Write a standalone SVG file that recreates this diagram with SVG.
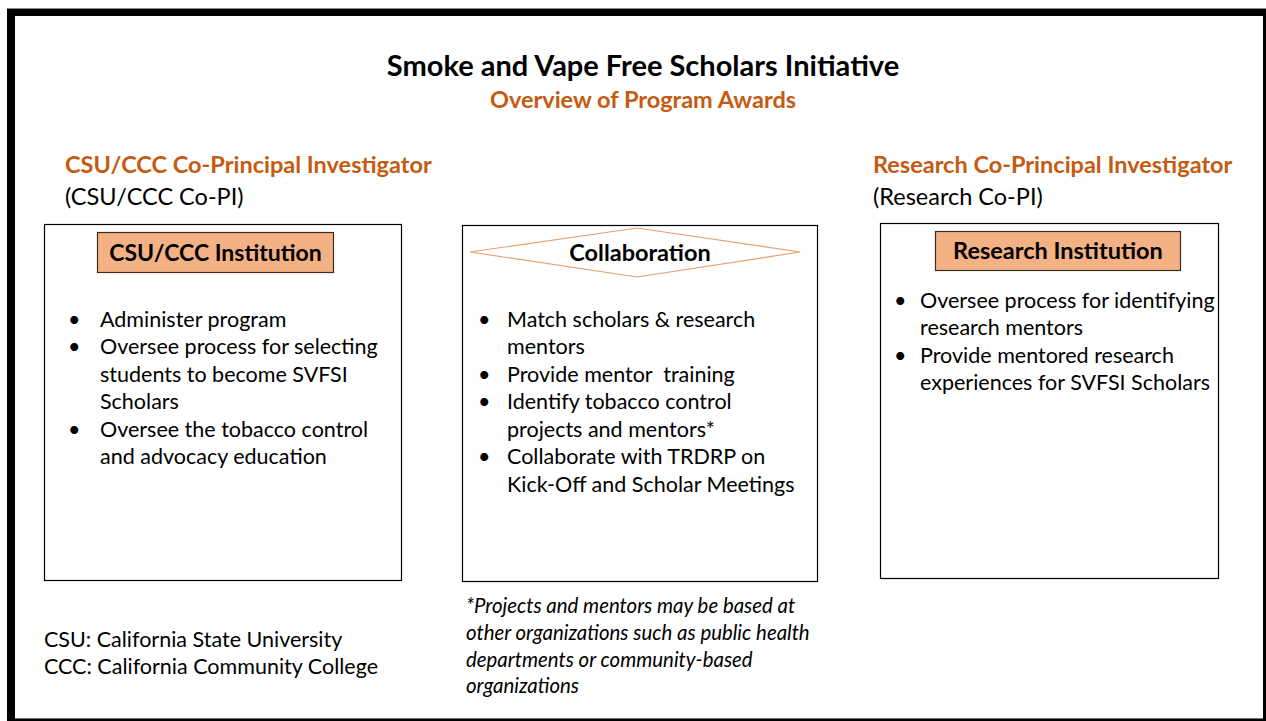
<svg xmlns="http://www.w3.org/2000/svg" width="1266" height="721" viewBox="0 0 1266 721">
<style>
.t{font-family:Lato,"Open Sans","Liberation Sans",sans-serif;fill:#000}
.b{font-weight:bold}
.o{fill:#C55A11}
.body{font-size:21.5px}
.box{fill:#fff;stroke:#000;stroke-width:1.2}
.lab{fill:#F4B183;stroke:#3a2a20;stroke-width:1.2}
.it{font-style:italic;font-size:20.4px}
</style>
<rect x="0" y="0" width="1266" height="721" fill="#fff"/>
<rect x="7" y="8" width="1259" height="713" fill="#000"/>
<rect x="15" y="16" width="1248" height="702" fill="#fff"/>
<line x1="7" y1="8.5" x2="1266" y2="8.5" stroke="#888" stroke-width="1"/>
<line x1="15" y1="718.5" x2="1263" y2="718.5" stroke="#777" stroke-width="1"/>

<g id="title">
<text class="t b" x="643" y="76" font-size="29" text-anchor="middle">Smoke and Vape Free Scholars Initiative</text>
<text class="t b o" x="643" y="108" font-size="23.5" text-anchor="middle">Overview of Program Awards</text>
</g>

<g id="csu-heading">
<text class="t b o" x="65" y="173" font-size="23.5">CSU/CCC Co-Principal Investigator</text>
<text class="t" x="65" y="205" font-size="23.5">(CSU/CCC Co-PI)</text>
</g>
<g id="research-heading">
<text class="t b o" x="873" y="173" font-size="23.5">Research Co-Principal Investigator</text>
<text class="t" x="873" y="205" font-size="23.5">(Research Co-PI)</text>
</g>

<g id="csu-institution">
<rect class="box" x="44.5" y="224.5" width="357" height="356"/>
<rect class="lab" x="97.5" y="232.5" width="236" height="40"/>
<text class="t b" x="215.5" y="261" font-size="23" text-anchor="middle">CSU/CCC Institution</text>
<g class="t body">
<text x="68" y="327">•</text><text x="100" y="327">Administer program</text>
<text x="68" y="354">•</text><text x="100" y="354">Oversee process for selecting</text>
<text x="100" y="382">students to become SVFSI</text>
<text x="100" y="409">Scholars</text>
<text x="68" y="437">•</text><text x="100" y="437">Oversee the tobacco control</text>
<text x="100" y="464">and advocacy education</text>
</g>
</g>

<g id="collaboration">
<rect class="box" x="462.5" y="225.5" width="355" height="356"/>
<polygon points="470,252 637,228 800,252 637,277" fill="#fff" stroke="#E8A070" stroke-width="1.2"/>
<text class="t b" x="640" y="261" font-size="23.5" text-anchor="middle">Collaboration</text>
<g class="t body">
<text x="478" y="327">•</text><text x="507" y="327">Match scholars &amp; research</text>
<text x="507" y="354">mentors</text>
<text x="478" y="382">•</text><text x="507" y="382" xml:space="preserve">Provide mentor  training</text>
<text x="478" y="409">•</text><text x="507" y="409">Identify tobacco control</text>
<text x="507" y="437">projects and mentors*</text>
<text x="478" y="464">•</text><text x="507" y="464">Collaborate with TRDRP on</text>
<text x="507" y="492">Kick-Off and Scholar Meetings</text>
</g>
</g>

<g id="research-institution">
<rect class="box" x="880.5" y="223.5" width="338" height="355"/>
<rect class="lab" x="935.5" y="231.5" width="245" height="39"/>
<text class="t b" x="1058" y="259" font-size="23.5" text-anchor="middle">Research Institution</text>
<g class="t body">
<text x="894" y="308">•</text><text x="920" y="308">Oversee process for identifying</text>
<text x="920" y="335">research mentors</text>
<text x="894" y="363">•</text><text x="920" y="363">Provide mentored research</text>
<text x="920" y="390">experiences for SVFSI Scholars</text>
</g>
</g>

<g id="abbreviations" class="t body">
<text x="44" y="647">CSU: California State University</text>
<text x="44" y="674">CCC: California Community College</text>
</g>

<g id="footnote" class="t it">
<text x="466" y="613">*Projects and mentors may be based at</text>
<text x="466" y="640">other organizations such as public health</text>
<text x="466" y="667">departments or community-based</text>
<text x="466" y="693">organizations</text>
</g>

<g id="connectors"></g>
</svg>
